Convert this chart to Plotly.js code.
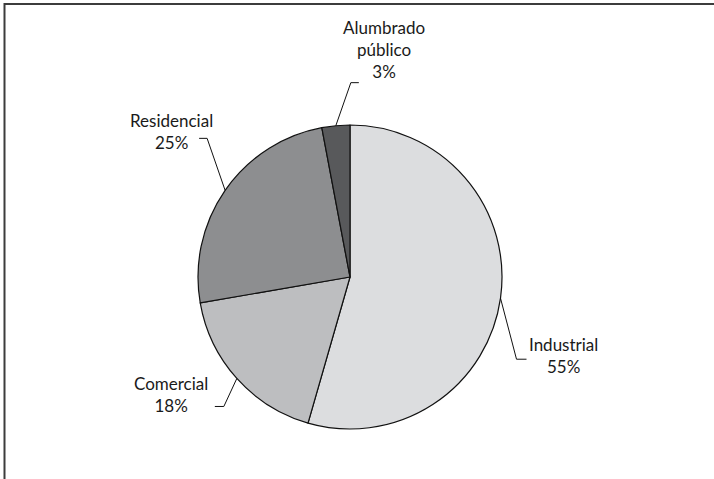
<!DOCTYPE html>
<html>
<head>
<meta charset="utf-8">
<script src="https://cdn.plot.ly/plotly-3.0.1.min.js"></script>
<style>html,body{margin:0;padding:0;background:#fff;}#chart{width:714px;height:479px;}</style>
</head>
<body>
<div id="chart"></div>
<script>
// Data
var categories = ["Industrial", "Comercial", "Residencial", "Alumbrado<br>público"];
var shares = [55, 18, 25, 3];
var sliceColors = ["#dcdddf", "#bdbec0", "#8d8e90", "#58595b"];

// Layout / style (pixels)
var W = 714, H = 479;
var cx = 350, cy = 277, R = 152;
// knee offsets from the slice edge point, and horizontal tail length (sign = direction)
var kneeDX = [16, -13, -18, 15];
var kneeDY = [61, 28, -52, -43];
var tail = [10, -9, -8, 8];
// label centre offset from tail end
var labDX = [37, -44, -28, 25];
var labDY = [-4, -12, -7, -33];

var total = shares.reduce(function(a, b){ return a + b; }, 0);
var shapes = [], annotations = [];
var cum = 0;
function px(x){ return x / W; }
function py(y){ return 1 - y / H; }
for (var i = 0; i < shares.length; i++) {
  var mid = (cum + shares[i] / 2) / total * 2 * Math.PI;
  cum += shares[i];
  var ex = cx + R * Math.sin(mid), ey = cy - R * Math.cos(mid);
  var kx = ex + kneeDX[i], ky = ey + kneeDY[i];
  var tx = kx + tail[i];
  shapes.push({
    type: "path", xref: "paper", yref: "paper",
    path: "M" + px(ex) + "," + py(ey) + " L" + px(kx) + "," + py(ky) + " L" + px(tx) + "," + py(ky),
    line: {color: "#111", width: 1}
  });
  annotations.push({
    xref: "paper", yref: "paper", x: px(tx + labDX[i]), y: py(ky + labDY[i]),
    xanchor: "center", yanchor: "middle", align: "center", showarrow: false,
    text: categories[i] + "<br>" + shares[i] + "%",
    font: {family: "Lato, 'Noto Sans', sans-serif", size: 17, color: "#1a1a1a"}
  });
}
// frame
shapes.push({type: "path", xref: "paper", yref: "paper",
  path: "M" + px(4.5) + ",-0.1 L" + px(4.5) + "," + py(4) + " L1.1," + py(4),
  line: {color: "#3c3c3c", width: 2}});

var trace = {
  type: "pie",
  labels: categories,
  values: shares,
  sort: false,
  direction: "clockwise",
  rotation: 0,
  textinfo: "none",
  hoverinfo: "skip",
  marker: {colors: sliceColors, line: {color: "#111", width: 1.2}},
  domain: {x: [px(cx - R), px(cx + R)], y: [py(cy + R), py(cy - R)]}
};

Plotly.newPlot("chart", [trace], {
  width: W, height: H,
  margin: {l: 0, r: 0, t: 0, b: 0},
  paper_bgcolor: "#fff",
  showlegend: false,
  shapes: shapes,
  annotations: annotations
}, {staticPlot: true});
</script>
</body>
</html>
